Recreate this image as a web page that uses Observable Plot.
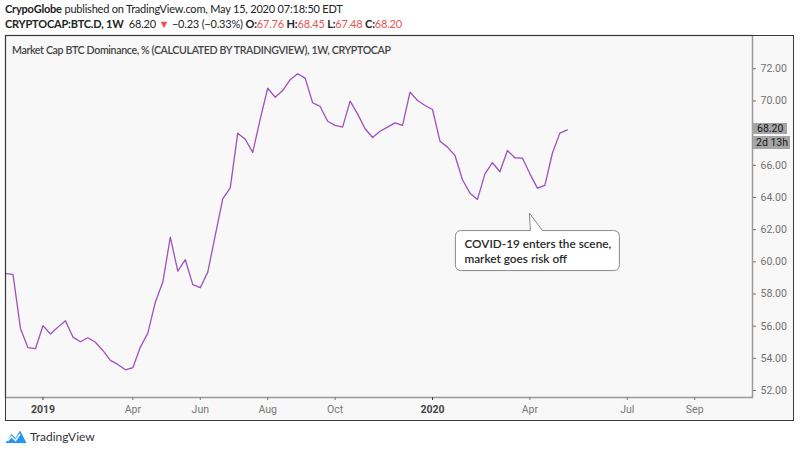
<!DOCTYPE html>
<html><head><meta charset="utf-8">
<script src="https://cdn.jsdelivr.net/npm/d3@7"></script>
<script src="https://cdn.jsdelivr.net/npm/@observablehq/plot@0.6"></script>
<style>
html,body{margin:0;padding:0;background:#fff;}
#wrap{position:relative;width:800px;height:451px;overflow:hidden;font-family:Lato,"Open Sans",sans-serif;}
#wrap svg.plot{position:absolute;left:0;top:0;}
.h{position:absolute;white-space:nowrap;font-size:11px;color:#222;line-height:14px;letter-spacing:-0.2px;}
.r{color:#e8534f;}
#bg{position:absolute;left:5px;top:35px;width:789px;height:386px;background:#f8f8f8;}
#box{position:absolute;left:5px;top:35px;width:789px;height:386px;border:1.5px solid #3a3a3a;box-sizing:border-box;pointer-events:none;}
.pl{position:absolute;background:#a5a5a5;color:#151515;font-family:Roboto,sans-serif;font-size:10.5px;white-space:nowrap;}
</style></head><body><div id="wrap">
<div id="bg"></div>
<div class="h" style="left:5px;top:2px;"><b>CrypoGlobe</b> published on TradingView.com, May 15, 2020 07:18:50 EDT</div>
<div class="h" style="left:5px;top:17px;"><b>CRYPTOCAP:BTC.D, 1W</b>&nbsp; 68.20 <span class="r">▼</span> −0.23 (−0.33%) <b>O:</b><span class="r">67.76</span> <b>H:</b><span class="r">68.45</span> <b>L:</b><span class="r">67.48</span> <b>C:</b><span class="r">68.20</span></div>
<div class="h" style="left:12px;top:43px;color:#444;font-weight:600;font-size:10.6px;letter-spacing:-0.35px;">Market Cap BTC Dominance, % (CALCULATED BY TRADINGVIEW), 1W, CRYPTOCAP</div>
<div class="h" style="left:5px;top:429px;display:flex;align-items:center;gap:3px;font-size:12px;color:#333;letter-spacing:0;">
<svg width="22" height="15" viewBox="0 0 22 15"><path d="M0.5 14 L6.5 5 L10.5 9 L15 1.5 L21.5 14 Z" fill="#2196f3"/><path d="M2.5 12 L6.5 7.5 L10.5 11.5 L15 5" fill="none" stroke="#fff" stroke-width="1.5"/></svg>
<span>TradingView</span></div>
</div>
<script>
// weekly BTC dominance (%), first week starting 2018-12-03
const startWeek = "2018-12-03";
const endDomain = "2020-10-31";
const values = [59.26,59.22,55.86,54.66,54.60,56.03,55.51,55.94,56.34,55.32,
55.03,55.28,55.00,54.49,53.87,53.62,53.29,53.42,54.70,55.57,
57.49,58.74,61.53,59.42,60.13,58.58,58.39,59.36,61.64,63.92,
64.60,68.00,67.62,66.80,68.87,70.79,70.23,70.65,71.32,71.69,
71.42,69.89,69.66,68.74,68.48,68.37,69.99,69.20,68.27,67.73,
68.12,68.37,68.64,68.48,70.55,70.03,69.72,69.47,67.50,67.13,
66.61,65.10,64.27,63.88,65.47,66.16,65.60,66.92,66.47,66.45,
65.47,64.58,64.75,66.75,68.00,68.20];
const monthTicks = ["2019-04-01","2019-06-03","2019-08-05","2019-10-07","2020-04-06","2020-07-06","2020-09-07"];
const monthLabels = ["Apr","Jun","Aug","Oct","Apr","Jul","Sep"];
const yearTicks = ["2019-01-07","2020-01-06"];
const yearLabels = ["2019","2020"];
const yTicks = [52,54,56,58,60,62,64,66,70,72]; // 68.00 is hidden behind the price label
const yDomain = [51.565, 74.07];
const lastLabel = "68.20";
const countdown = "2d 13h";
const noteDate = "2020-04-06";
const noteValue = 63.0;
const noteLines = ["COVID-19 enters the scene,", "market goes risk off"];

const start = new Date(startWeek);
const data = values.map((v, i) => ({date: d3.utcDay.offset(start, 7 * i), value: v}));
const mt = monthTicks.map(d => new Date(d));
const yt = yearTicks.map(d => new Date(d));
const mFmt = new Map(mt.map((d, i) => [+d, monthLabels[i]]));
const yFmt = new Map(yt.map((d, i) => [+d, yearLabels[i]]));

const plot = Plot.plot({
  width: 800, height: 451,
  marginLeft: 5, marginRight: 48, marginTop: 35, marginBottom: 54,
  style: {background: "transparent", fontFamily: "Roboto, sans-serif", overflow: "visible"},
  x: {type: "utc", domain: [start, new Date(endDomain)]},
  y: {domain: yDomain},
  marks: [
    Plot.frame({stroke: "#9a9a9a", strokeWidth: 1.5}),
    Plot.axisY(yTicks, {anchor: "right", tickFormat: d => d.toFixed(2), tickSize: 3, tickPadding: 5, fontSize: 10.5, color: "#707070", label: null}),
    Plot.axisX(mt, {anchor: "bottom", tickFormat: d => mFmt.get(+d), tickSize: 3, tickPadding: 5, fontSize: 10.5, color: "#777", label: null}),
    Plot.axisX(yt, {anchor: "bottom", tickFormat: d => yFmt.get(+d), tickSize: 3, tickPadding: 5, fontSize: 10.5, fontWeight: "bold", color: "#444", label: null}),
    Plot.line(data, {x: "date", y: "value", stroke: "#9f50bf", strokeWidth: 1.3})
  ]
});
plot.classList.add("plot");
const wrap = document.getElementById("wrap");
wrap.appendChild(plot);

const sx = plot.scale("x"), sy = plot.scale("y");

// price labels at right
const py = sy.apply(values[values.length - 1]);
const b1 = document.createElement("div");
b1.className = "pl";
Object.assign(b1.style, {left: "752px", top: (py - 6.5) + "px", width: "35px", height: "11px", lineHeight: "11px", paddingLeft: "5px", boxSizing: "border-box"});
b1.textContent = lastLabel;
wrap.appendChild(b1);
const b2 = document.createElement("div");
b2.className = "pl";
Object.assign(b2.style, {left: "753px", top: (py + 6.5) + "px", width: "37px", height: "13px", lineHeight: "13px", paddingLeft: "3px", boxSizing: "border-box"});
b2.textContent = countdown;
wrap.appendChild(b2);

// callout
const tx = sx.apply(new Date(noteDate)), ty = sy.apply(noteValue);
const L = tx - 74, R = tx + 90, T = ty + 17.5, B = ty + 57.5, r = 6;
const ns = "http://www.w3.org/2000/svg";
const p = document.createElementNS(ns, "path");
p.setAttribute("d", `M${L + r},${T} L${tx + 1},${T} L${tx},${ty} L${tx + 13},${T} L${R - r},${T} Q${R},${T} ${R},${T + r} L${R},${B - r} Q${R},${B} ${R - r},${B} L${L + r},${B} Q${L},${B} ${L},${B - r} L${L},${T + r} Q${L},${T} ${L + r},${T} Z`);
p.setAttribute("fill", "#fff");
p.setAttribute("stroke", "#8a8a8a");
p.setAttribute("stroke-width", "1");
plot.appendChild(p);
noteLines.forEach((s, i) => {
  const t = document.createElementNS(ns, "text");
  t.setAttribute("x", L + 9);
  t.setAttribute("y", T + 17 + i * 15);
  t.setAttribute("text-anchor", "start");
  t.setAttribute("font-family", "Lato, sans-serif");
  t.setAttribute("font-size", "11.8");
  t.setAttribute("font-weight", "600");
  t.setAttribute("fill", "#2a2a2a");
  t.textContent = s;
  plot.appendChild(t);
});

const box = document.createElement("div");
box.id = "box";
wrap.appendChild(box);
</script>
</body></html>
